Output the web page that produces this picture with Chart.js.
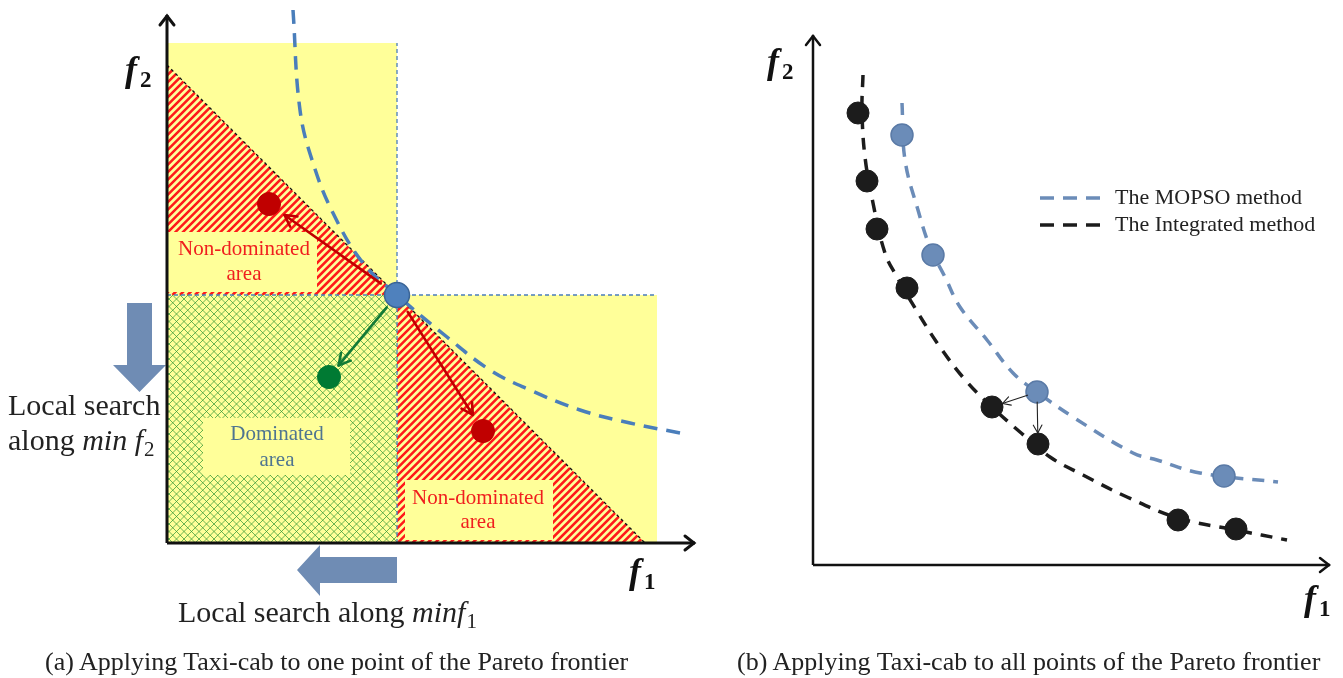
<!DOCTYPE html>
<html>
<head>
<meta charset="utf-8">
<script src="https://cdn.jsdelivr.net/npm/chart.js@4.4.1/dist/chart.umd.min.js"></script>
<style>
  body { margin: 0; background: #fff; }
  #wrap { position: relative; width: 1343px; height: 678px; overflow: hidden; }
  #chartA { position: absolute; left: 0; top: 0; }
  #chartB { position: absolute; left: 700px; top: 0; }
  .cap { position: absolute; top: 647px; font: 26px "Liberation Serif", "Times New Roman", serif; color: #222; white-space: nowrap; }
</style>
</head>
<body>
<div id="wrap">
  <canvas id="chartA" width="700" height="678"></canvas>
  <canvas id="chartB" width="643" height="678"></canvas>
  <div class="cap" style="left:45px">(a) Applying Taxi-cab to one point of the Pareto frontier</div>
  <div class="cap" style="left:737px">(b) Applying Taxi-cab to all points of the Pareto frontier</div>
</div>
<script>
// ---- panel (a): one point of the front (f1, f2 units) ----
const paretoPoint = [{ x: 4.6, y: 4.96 }];
const nonDominatedPts = [{ x: 2.04, y: 6.78 }, { x: 6.32, y: 2.24 }];
const dominatedPts = [{ x: 3.24, y: 3.32 }];
const frontAX = [2.52, 2.66, 2.92, 3.32, 3.92, 4.6, 5.6, 6.46, 7.26, 8.26, 9.26, 10.26];
const frontAY = [10.66, 8.66, 7.6, 6.6, 5.6, 4.96, 4.12, 3.46, 3.06, 2.66, 2.4, 2.2];
const areaTop = 10, areaRight = 9.8;

// ---- panel (b): all points of the front ----
const mopsoX = [1.78, 2.4, 4.48, 8.22];
const mopsoY = [8.6, 6.2, 3.46, 1.78];
const integX = [0.9, 1.08, 1.28, 1.88, 3.58, 4.5, 7.3, 8.46];
const integY = [9.04, 7.68, 6.72, 5.54, 3.16, 2.42, 0.9, 0.72];
const mopsoCurveX = [1.78, 1.84, 2.1, 2.34, 2.64, 2.94, 3.48, 4.0, 4.48, 5.2, 6.4, 6.88, 7.74, 9.3];
const mopsoCurveY = [9.24, 8.1, 7.1, 6.36, 5.76, 5.16, 4.5, 3.84, 3.46, 2.96, 2.24, 2.1, 1.84, 1.66];
const integCurveX = [1.0, 0.98, 1.04, 1.2, 1.44, 1.68, 2.04, 2.54, 3.08, 3.58, 4.14, 4.74, 5.4, 6.28, 7.3, 8.46, 9.48];
const integCurveY = [9.8, 9.1, 8.16, 7.24, 6.24, 5.76, 5.14, 4.36, 3.66, 3.16, 2.66, 2.16, 1.8, 1.36, 0.94, 0.7, 0.5];
const moves = [[2, 4], [2, 5]]; // mopso index -> integrated index
const legendLabels = ['The MOPSO method', 'The Integrated method'];

const SERIF = '"Liberation Serif", "Times New Roman", serif';
const BLUE = '#4a7ebb', SLATE = '#6b8cb8', RED = '#c00000';
const zip = (xs, ys) => xs.map((x, i) => ({ x: x, y: ys[i] }));

function fillRect(ctx, x0, y0, x1, y1) { ctx.fillRect(x0, y0, x1 - x0, y1 - y0); }

function hatch(ctx, poly, step, color, lw, dirs) {
  ctx.save();
  ctx.beginPath();
  poly.forEach((p, i) => i ? ctx.lineTo(p[0], p[1]) : ctx.moveTo(p[0], p[1]));
  ctx.closePath();
  ctx.clip();
  const xs = poly.map(p => p[0]), ys = poly.map(p => p[1]);
  const x0 = Math.min(...xs), x1 = Math.max(...xs), y0 = Math.min(...ys), y1 = Math.max(...ys);
  const h = y1 - y0;
  ctx.strokeStyle = color; ctx.lineWidth = lw;
  ctx.beginPath();
  for (let x = Math.floor((x0 - h) / step) * step; x <= x1 + h; x += step) {
    if (dirs.includes('/')) { ctx.moveTo(x, y1); ctx.lineTo(x + h, y0); }
    if (dirs.includes('\\')) { ctx.moveTo(x, y0); ctx.lineTo(x + h, y1); }
  }
  ctx.stroke();
  ctx.restore();
}

function arrow(ctx, x0, y0, x1, y1, off0, off1, color, lw, head) {
  const a = Math.atan2(y1 - y0, x1 - x0);
  const sx = x0 + Math.cos(a) * off0, sy = y0 + Math.sin(a) * off0;
  const ex = x1 - Math.cos(a) * off1, ey = y1 - Math.sin(a) * off1;
  ctx.strokeStyle = color; ctx.lineWidth = lw; ctx.lineCap = 'round'; ctx.lineJoin = 'round';
  ctx.beginPath(); ctx.moveTo(sx, sy); ctx.lineTo(ex, ey); ctx.stroke();
  ctx.beginPath();
  ctx.moveTo(ex - head * Math.cos(a - 0.5), ey - head * Math.sin(a - 0.5));
  ctx.lineTo(ex, ey);
  ctx.lineTo(ex - head * Math.cos(a + 0.5), ey - head * Math.sin(a + 0.5));
  ctx.stroke();
}

function axisArrows(ctx, ox, oy, tx, ty, lw) {
  ctx.strokeStyle = '#111'; ctx.lineWidth = lw; ctx.lineCap = 'butt'; ctx.lineJoin = 'miter';
  ctx.beginPath(); ctx.moveTo(ox, oy); ctx.lineTo(ox, ty); ctx.moveTo(ox, oy); ctx.lineTo(tx, oy); ctx.stroke();
  ctx.lineCap = 'round';
  ctx.beginPath();
  ctx.moveTo(ox - 7, ty + 10); ctx.lineTo(ox, ty + 1); ctx.lineTo(ox + 7, ty + 10);
  ctx.moveTo(tx - 10, oy - 7); ctx.lineTo(tx - 1, oy); ctx.lineTo(tx - 10, oy + 7);
  ctx.stroke();
}

// runs of text with different fonts on one baseline
function runs(ctx, parts, x, y) {
  ctx.textAlign = 'left'; ctx.textBaseline = 'alphabetic';
  parts.forEach(p => {
    ctx.font = p.font;
    ctx.fillText(p.t, x, y + (p.dy || 0));
    x += ctx.measureText(p.t).width + (p.gap || 0);
  });
}

function fLabel(ctx, sub, x, y) {
  ctx.fillStyle = '#111';
  runs(ctx, [{ t: 'f', font: 'bold italic 36px ' + SERIF, gap: 3 }, { t: sub, font: 'bold 23px ' + SERIF, dy: 6 }], x, y);
}

function baseOptions(xr, yr) {
  return {
    responsive: false, animation: false, devicePixelRatio: 1, events: [],
    layout: { padding: 0, autoPadding: false },
    plugins: { legend: { display: false }, tooltip: { enabled: false } },
    scales: {
      x: { type: 'linear', min: xr[0], max: xr[1], display: false },
      y: { type: 'linear', min: yr[0], max: yr[1], display: false }
    }
  };
}

const panelA = {
  id: 'panelA',
  beforeDatasetsDraw(chart) {
    const ctx = chart.ctx, X = v => chart.scales.x.getPixelForValue(v), Y = v => chart.scales.y.getPixelForValue(v);
    const p = paretoPoint[0], lim = p.x + p.y;
    ctx.save();
    ctx.fillStyle = '#ffff99';
    fillRect(ctx, X(0), Y(areaTop), X(p.x), Y(0));
    fillRect(ctx, X(p.x), Y(p.y), X(areaRight), Y(0));
    // dominated area
    hatch(ctx, [[X(0), Y(p.y)], [X(p.x), Y(p.y)], [X(p.x), Y(0)], [X(0), Y(0)]], 7.5, 'rgba(50,150,55,0.8)', 0.9, '/\\');
    // non-dominated areas
    hatch(ctx, [[X(0), Y(lim)], [X(p.x), Y(p.y)], [X(0), Y(p.y)]], 7.5, '#ff1a1a', 2.6, '/');
    hatch(ctx, [[X(p.x), Y(p.y)], [X(lim), Y(0)], [X(p.x), Y(0)]], 7.5, '#ff1a1a', 2.6, '/');
    // label boxes
    ctx.fillStyle = '#ffff99';
    fillRect(ctx, X(0.02), Y(6.22), X(3.0), Y(5.02));
    fillRect(ctx, X(4.76), Y(1.26), X(7.72), Y(0.06));
    fillRect(ctx, X(0.72), Y(2.5), X(3.66), Y(1.36));
    ctx.font = '21px ' + SERIF; ctx.textAlign = 'center'; ctx.textBaseline = 'middle';
    ctx.fillStyle = '#f01e1e';
    ctx.fillText('Non-dominated', X(1.54), Y(5.88)); ctx.fillText('area', X(1.54), Y(5.38));
    ctx.fillText('Non-dominated', X(6.22), Y(0.9)); ctx.fillText('area', X(6.22), Y(0.42));
    ctx.fillStyle = '#4f7590';
    ctx.fillText('Dominated', X(2.2), Y(2.18)); ctx.fillText('area', X(2.2), Y(1.66));
    ctx.restore();
  },
  afterDatasetsDraw(chart) {
    const ctx = chart.ctx, X = v => chart.scales.x.getPixelForValue(v), Y = v => chart.scales.y.getPixelForValue(v);
    const p = paretoPoint[0];
    ctx.save();
    nonDominatedPts.forEach(q => arrow(ctx, X(p.x), Y(p.y), X(q.x), Y(q.y), 20, 19, RED, 2.6, 13));
    dominatedPts.forEach(q => arrow(ctx, X(p.x), Y(p.y), X(q.x), Y(q.y), 16, 15, '#127a36', 2.6, 13));
    // local search block arrows
    ctx.fillStyle = '#6f8cb4';
    ctx.beginPath();
    ctx.moveTo(X(-0.8), Y(4.8)); ctx.lineTo(X(-0.3), Y(4.8)); ctx.lineTo(X(-0.3), Y(3.56));
    ctx.lineTo(X(-0.02), Y(3.56)); ctx.lineTo(X(-0.55), Y(3.02)); ctx.lineTo(X(-1.08), Y(3.56));
    ctx.lineTo(X(-0.8), Y(3.56)); ctx.closePath(); ctx.fill();
    ctx.beginPath();
    ctx.moveTo(X(p.x), Y(-0.28)); ctx.lineTo(X(p.x), Y(-0.8)); ctx.lineTo(X(3.06), Y(-0.8));
    ctx.lineTo(X(3.06), Y(-1.06)); ctx.lineTo(X(2.6), Y(-0.54)); ctx.lineTo(X(3.06), Y(-0.04));
    ctx.lineTo(X(3.06), Y(-0.28)); ctx.closePath(); ctx.fill();
    axisArrows(ctx, X(0), Y(0), X(10.56), Y(10.56), 3);
    fLabel(ctx, '2', X(0) - 42, Y(10.56) + 66);
    fLabel(ctx, '1', X(10.56) - 66, Y(0) + 40);
    ctx.fillStyle = '#222';
    const reg = '30px ' + SERIF, it = 'italic 30px ' + SERIF;
    runs(ctx, [{ t: 'Local search along ', font: reg }, { t: 'min', font: it }, { t: 'f', font: it, gap: 1 }, { t: '1', font: '21px ' + SERIF, dy: 6 }], 178, 622);
    runs(ctx, [{ t: 'Local search', font: reg }], 8, 415);
    runs(ctx, [{ t: 'along ', font: reg }, { t: 'min ', font: it }, { t: 'f', font: it, gap: 1 }, { t: '2', font: '21px ' + SERIF, dy: 6 }], 8, 450);
    ctx.restore();
  }
};

const panelB = {
  id: 'panelB',
  afterDatasetsDraw(chart) {
    const ctx = chart.ctx, X = v => chart.scales.x.getPixelForValue(v), Y = v => chart.scales.y.getPixelForValue(v);
    ctx.save();
    moves.forEach(m => arrow(ctx, X(mopsoX[m[0]]), Y(mopsoY[m[0]]), X(integX[m[1]]), Y(integY[m[1]]), 10, 11, '#222', 1.1, 9));
    axisArrows(ctx, X(0), Y(0), X(10.34), Y(10.6), 2.5);
    fLabel(ctx, '2', X(0) - 46, Y(10.6) + 38);
    fLabel(ctx, '1', X(10.34) - 26, Y(0) + 45);
    // legend
    const colors = [SLATE, '#1c1c1c'];
    legendLabels.forEach((t, i) => {
      const y = Y(7.34) + i * 27;
      ctx.strokeStyle = colors[i]; ctx.lineWidth = 3.5; ctx.setLineDash([14, 9]); ctx.lineCap = 'butt';
      ctx.beginPath(); ctx.moveTo(X(4.54), y); ctx.lineTo(X(5.74), y); ctx.stroke();
      ctx.setLineDash([]);
      ctx.fillStyle = '#222'; ctx.font = '22px ' + SERIF; ctx.textAlign = 'left'; ctx.textBaseline = 'middle';
      ctx.fillText(t, X(6.04), y);
    });
    ctx.restore();
  }
};

new Chart(document.getElementById('chartA'), {
  type: 'scatter',
  data: {
    datasets: [
      { data: paretoPoint, pointRadius: 12.5, backgroundColor: '#4f81bd', borderColor: '#3a6496', borderWidth: 1.5, order: 1 },
      { data: nonDominatedPts, pointRadius: 11.5, backgroundColor: RED, borderColor: RED, order: 1 },
      { data: dominatedPts, pointRadius: 11.5, backgroundColor: '#007a33', borderColor: '#007a33', order: 1 },
      { data: zip(frontAX, frontAY), showLine: true, tension: 0.4, pointRadius: 0, borderColor: BLUE, borderWidth: 3.5, borderDash: [14, 9], order: 2 },
      { data: [{ x: 0, y: paretoPoint[0].x + paretoPoint[0].y }, { x: paretoPoint[0].x + paretoPoint[0].y, y: 0 }], showLine: true, pointRadius: 0, borderColor: '#111', borderWidth: 1.3, borderDash: [3, 3], order: 3 },
      { data: [{ x: paretoPoint[0].x, y: 0 }, { x: paretoPoint[0].x, y: areaTop }], showLine: true, pointRadius: 0, borderColor: BLUE, borderWidth: 1.3, borderDash: [4, 3], order: 3 },
      { data: [{ x: 0, y: paretoPoint[0].y }, { x: areaRight, y: paretoPoint[0].y }], showLine: true, pointRadius: 0, borderColor: BLUE, borderWidth: 1.3, borderDash: [4, 3], order: 3 }
    ]
  },
  options: baseOptions([-3.34, 10.66], [-2.7, 10.86]),
  plugins: [panelA]
});

new Chart(document.getElementById('chartB'), {
  type: 'scatter',
  data: {
    datasets: [
      { label: legendLabels[0], data: zip(mopsoX, mopsoY), pointRadius: 11, backgroundColor: SLATE, borderColor: '#5a7aa6', borderWidth: 1.5, order: 1 },
      { label: legendLabels[1], data: zip(integX, integY), pointRadius: 11, backgroundColor: '#1c1c1c', borderColor: '#1c1c1c', order: 1 },
      { data: zip(mopsoCurveX, mopsoCurveY), showLine: true, tension: 0.4, pointRadius: 0, borderColor: SLATE, borderWidth: 3.5, borderDash: [12, 9], order: 2 },
      { data: zip(integCurveX, integCurveY), showLine: true, tension: 0.4, pointRadius: 0, borderColor: '#1c1c1c', borderWidth: 3.5, borderDash: [12, 9], order: 2 }
    ]
  },
  options: baseOptions([-2.26, 10.6], [-2.26, 11.3]),
  plugins: [panelB]
});
</script>
</body>
</html>
